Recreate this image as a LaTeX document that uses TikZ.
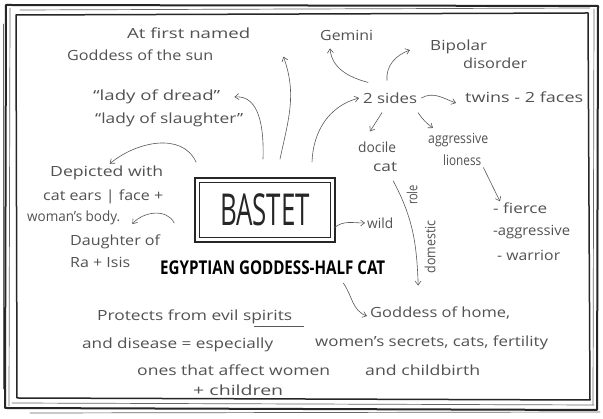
\documentclass[tikz,border=0pt]{standalone}
\usepackage{fontspec}
\setmainfont{Open Sans}
\usetikzlibrary{arrows.meta,calc}
\newcommand{\hw}[2]{\resizebox{#1pt}{\height}{#2}}
\begin{document}
\begin{tikzpicture}[x=1pt,y=1pt,
  hand/.style={font=\fontsize{14}{16}\selectfont, text=black!68, inner sep=0pt, anchor=west},
  arr/.style={draw=black!65, line width=0.6pt, line cap=round, -{Straight Barb[length=4pt,width=6pt]}},
  frameline/.style={draw=black!85, line width=1.6pt, line join=round, line cap=round},
  thinframe/.style={draw=black!60, line width=0.7pt, line cap=round}]
\useasboundingbox (0,0) rectangle (603,419);
\fill[white] (0,0) rectangle (603,419);

% frame (hand drawn, several strokes)
\draw[frameline, line width=2pt] (5,11) -- (6,414) -- (598,413) -- (597,9) -- cycle;
\draw[frameline, line width=1.5pt] (17,21) -- (16,404) -- (588,406) -- (590,19) -- cycle;
\draw[thinframe] (9,13) -- (10,411);
\draw[thinframe] (3,30) -- (3,395);
\draw[thinframe] (20,409) -- (590,411);
\draw[thinframe] (12,16) -- (594,14);
\draw[thinframe] (593,14) -- (594,410);
\draw[thinframe] (30,6) -- (600,7);

% central box
\node[draw=black!85, line width=1.8pt, minimum width=140pt, minimum height=64pt, inner sep=0pt]
  (bastet) at (265,209) {\fontsize{44}{44}\selectfont\color{black!85}\hw{90}{BASTET}};
\draw[black!85, line width=0.9pt] ([shift={(5,-5)}]bastet.north west) rectangle ([shift={(-5,5)}]bastet.south east);
\node[inner sep=0pt, anchor=west] (subtitle) at (160,151)
  {\fontsize{19}{20}\selectfont\bfseries\hw{225}{EGYPTIAN GODDESS-HALF CAT}};

% left side texts
\node[hand] (firstnamed) at (127,386) {\hw{123}{At first named}};
\node[hand] (sun) at (67,364) {\hw{146}{Goddess of the sun}};
\node[hand] (dread) at (93,322) {\hw{127}{``lady of dread''}};
\node[hand] (slaughter) at (95,299) {\hw{148}{``lady of slaughter''}};
\node[hand] (depicted) at (50,246) {\hw{113}{Depicted with}};
\node[hand] (ears) at (43,222) {\hw{120}{cat ears | face +}};
\node[hand] (body) at (27,201) {\hw{93}{woman's body.}};
\node[hand] (daughter) at (70,177) {\hw{90}{Daughter of}};
\node[hand] (ra) at (70,157) {\hw{60}{Ra + Isis}};
\node[hand] (protects) at (97,102) {\hw{195}{Protects from evil spirits}};
\node[hand] (disease) at (82,74) {\hw{191}{and disease = especially}};
\node[hand] (ones) at (137,49) {\hw{193}{ones that affect women}};
\node[hand] (children) at (193,29) {\hw{90}{+ children}};

% right side texts
\node[hand] (wild) at (367,196) {\hw{26}{wild}};
\node[hand] (gemini) at (320,384) {\hw{53}{Gemini}};
\node[hand] (bipolar) at (430,372) {\hw{57}{Bipolar}};
\node[hand] (disorder) at (463,356) {\hw{64}{disorder}};
\node[hand] (sides) at (363,321) {\hw{54}{2 sides}};
\node[hand] (twins) at (465,322) {\hw{118}{twins - 2 faces}};
\node[hand] (docile) at (358,272) {\hw{38}{docile}};
\node[hand] (cat) at (373,252) {\hw{24}{cat}};
\node[hand] (aggressive) at (428,279) {\hw{60}{aggressive}};
\node[hand] (lioness) at (443,259) {\hw{38}{lioness}};
\node[hand] (fierce) at (493,211) {\hw{54}{- fierce}};
\node[hand] (aggr2) at (493,187) {\hw{77}{-aggressive}};
\node[hand] (warrior) at (497,164) {\hw{63}{- warrior}};
\node[hand] (home) at (370,106) {\hw{140}{Goddess of home,}};
\node[hand] (secrets) at (315,76) {\hw{233}{women's secrets, cats, fertility}};
\node[hand] (childbirth) at (365,49) {\hw{115}{and childbirth}};
\node[hand, rotate=90, anchor=center] (role) at (412,224) {\hw{20}{role}};
\node[hand, rotate=90, anchor=center] (domestic) at (430,172) {\hw{53}{domestic}};

\coordinate (tipsun) at ([shift={(33,-18)}]firstnamed.south east);
\coordinate (tiphome) at ([shift={(-22,21)}]home.north);

% connectors
\draw[arr] ([shift={(-2,18)}]bastet.north) to[out=88,in=5] ([xshift=14pt]dread.east);
\draw[arr] ([shift={(15,18)}]bastet.north) to[out=78,in=-70] (tipsun);
\draw[arr] ([shift={(2,15)}]bastet.north west) to[out=115,in=40] ([shift={(3,2)}]depicted.north);
\draw[arr] ([shift={(-20,-13)}]bastet.west) to[out=115,in=50] ([shift={(12,-6)}]body.east);
\draw[arr] ([shift={(-2,-18)}]bastet.east) to[out=40,in=180] ([xshift=-2pt]wild.west);
\draw[arr] ([shift={(47,15)}]bastet.north) to[out=88,in=195] ([xshift=-4pt]sides.west);
\draw[arr] ([shift={(5,10)}]sides.north west) to[out=165,in=-85] ([shift={(10,-8)}]gemini.south west);
\draw[arr] ([shift={(24,12)}]sides.north west) to[out=95,in=200] ([shift={(-20,-3)}]bipolar.west);
\draw[arr] ([xshift=4pt]sides.east) to[out=30,in=160] ([shift={(-9,-6)}]twins.west);
\draw[arr] ([shift={(19,-9)}]sides.south west) -- ([shift={(12,10)}]docile.north west);
\draw[arr] ([shift={(55,-9)}]sides.south west) to[bend right=10] ([shift={(5,5)}]aggressive.north west);
\draw[arr] ([shift={(2,-2)}]lioness.south east) -- ([shift={(7,1)}]fierce.north west);
\draw[arr] ([shift={(8,-9)}]cat.south) to[out=-62,in=92] (tiphome);
\draw[arr] ([shift={(-42,-8)}]subtitle.south east) to[out=-55,in=160] ([shift={(-3,-3)}]home.west);
\draw[black!65, line width=0.5pt] ([shift={(-38,-2)}]protects.south east) -- ([shift={(12,-2)}]protects.south east);
\end{tikzpicture}
\end{document}
